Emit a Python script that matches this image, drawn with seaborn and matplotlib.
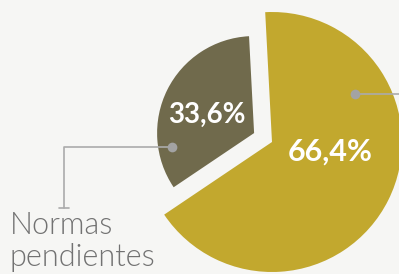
import numpy as np
import matplotlib
matplotlib.use("Agg")
import matplotlib.pyplot as plt
import seaborn as sns

# Shares of the two groups, in percent
categories = ["Normas aprobadas", "Normas pendientes"]
shares = [66.4, 33.6]
pct_labels = ["66,4%", "33,6%"]
colors = ["#c2a82e", "#706a4c"]

sns.set_theme(style="white")
plt.rcParams["font.family"] = ["Lato", "DejaVu Sans"]

bg = "#f6f6f4"
line_grey = "#ababab"

fig = plt.figure(figsize=(3.99, 2.74), dpi=100, facecolor=bg)
ax = fig.add_axes([0, 0, 1, 1])
ax.set_facecolor(bg)

# pie laid out in pixel units: centre and radius of the big slice
cx, cy, r = 272, 132, 130
wedges, _ = ax.pie(shares, colors=colors, startangle=93, counterclock=False,
                   center=(cx, cy), radius=r, wedgeprops=dict(linewidth=0))

# pull the small slice out along its bisector and shrink it
small = wedges[1]
mid = np.deg2rad((small.theta1 + small.theta2) / 2)
small.set_center((cx + 20 * np.cos(mid), cy + 20 * np.sin(mid)))
small.set_radius(97)

# pie() resets the limits, so set them afterwards
ax.set_xlim(0, 399)
ax.set_ylim(0, 274)
ax.set_aspect("equal")
ax.axis("off")

# percent labels
ax.text(330, 122, pct_labels[0], color="white", fontsize=22, fontweight="bold",
        ha="center", va="center")
ax.text(207, 159, pct_labels[1], color="white", fontsize=20, fontweight="bold",
        ha="center", va="center")

# leader lines with dots
ax.plot([355, 399], [180, 180], color=line_grey, lw=1.2, solid_capstyle="butt")
ax.plot(355, 180, "o", color="#a3a3a3", ms=7, mec="none")
ax.plot([172, 64, 64], [127, 127, 66], color=line_grey, lw=1.2)
ax.plot([59, 69], [66, 66], color=line_grey, lw=1.2)
ax.plot(172, 127, "o", color="#a3a3a3", ms=7, mec="none")

ax.text(10, 63, "Normas\npendientes", color="#727272", fontsize=22,
        fontweight=300, ha="left", va="top", linespacing=1.15)

fig.savefig("out.png", dpi=100, facecolor=bg)
